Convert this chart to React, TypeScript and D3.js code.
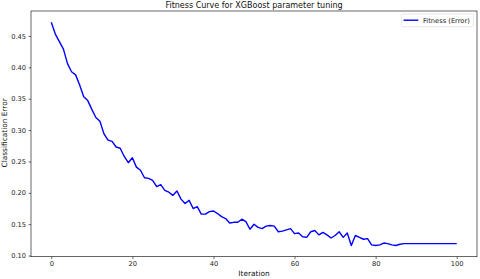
import React, {useEffect, useRef} from 'react'
import * as d3 from 'd3'

// fitness (classification error) per iteration
const fitness = [
	0.472, 0.453, 0.441, 0.429, 0.406, 0.393, 0.388, 0.372, 0.353, 0.347,
	0.333, 0.320, 0.314, 0.294, 0.284, 0.282, 0.273, 0.271, 0.258, 0.248,
	0.256, 0.241, 0.236, 0.224, 0.223, 0.220, 0.210, 0.213, 0.204, 0.201,
	0.196, 0.203, 0.190, 0.183, 0.188, 0.175, 0.178, 0.166, 0.166, 0.170,
	0.171, 0.167, 0.162, 0.159, 0.152, 0.153, 0.153, 0.158, 0.154, 0.142,
	0.150, 0.145, 0.143, 0.147, 0.148, 0.147, 0.138, 0.139, 0.141, 0.143,
	0.135, 0.136, 0.130, 0.129, 0.138, 0.140, 0.133, 0.137, 0.133, 0.128,
	0.132, 0.138, 0.129, 0.136, 0.116, 0.132, 0.129, 0.126, 0.127, 0.117,
	0.116, 0.117, 0.120, 0.119, 0.117, 0.116, 0.118, 0.119, 0.119, 0.119,
	0.119, 0.119, 0.119, 0.119, 0.119, 0.119, 0.119, 0.119, 0.119, 0.119,
	0.119,
]
const iterations = fitness.map((d, i) => i)
const xTicks = [0, 20, 40, 60, 80, 100]
const yTicks = [0.10, 0.15, 0.20, 0.25, 0.30, 0.35, 0.40, 0.45]

const title = 'Fitness Curve for XGBoost parameter tuning'
const xLabel = 'Iteration'
const yLabel = 'Classification Error'
const seriesName = 'Fitness (Error)'

const width = 480
const height = 279
const font = 'DejaVu Sans, sans-serif'

export default function App() {
	const svgRef = useRef<SVGSVGElement>(null)

	useEffect(() => {
		const svg = d3.select(svgRef.current)
		svg.selectAll('*').remove()

		const left = 31, right = 477, top = 11, bottom = 256.7

		const xMin = d3.min(iterations)!, xMax = d3.max(iterations)!
		const xPad = (xMax - xMin) * 0.05
		const xScale = d3.scaleLinear()
			.domain([xMin - xPad, xMax + xPad])
			.range([left, right])

		const yMin = d3.min(fitness)!, yMax = d3.max(fitness)!
		const yPad = (yMax - yMin) * 0.05
		const yScale = d3.scaleLinear()
			.domain([yMin - yPad, yMax + yPad])
			.range([bottom, top])

		svg.append('rect')
			.attr('width', width)
			.attr('height', height)
			.attr('fill', '#fff')

		// line
		const line = d3.line<number>()
			.x((d, i) => xScale(iterations[i]))
			.y(d => yScale(d))
		svg.append('path')
			.datum(fitness)
			.attr('fill', 'none')
			.attr('stroke', '#0000ff')
			.attr('stroke-width', 1.4)
			.attr('stroke-linejoin', 'round')
			.attr('d', line)

		// axes
		const xAxis = d3.axisBottom(xScale)
			.tickValues(xTicks)
			.tickSize(2.4)
			.tickPadding(2.5)
			.tickFormat(d3.format('d'))
		const yAxis = d3.axisLeft(yScale)
			.tickValues(yTicks)
			.tickSize(2.4)
			.tickPadding(2.5)
			.tickFormat(d3.format('.2f'))

		const gx = svg.append('g')
			.attr('transform', 'translate(0,' + bottom + ')')
			.call(xAxis)
		const gy = svg.append('g')
			.attr('transform', 'translate(' + left + ',0)')
			.call(yAxis)
		for (const g of [gx, gy]) {
			g.select('.domain').remove()
			g.selectAll('line').attr('stroke', '#000').attr('stroke-width', 0.6)
			g.selectAll('text')
				.attr('fill', '#222')
				.style('font-family', font)
				.style('font-size', '6.7px')
		}

		// frame
		svg.append('rect')
			.attr('x', left)
			.attr('y', top)
			.attr('width', right - left)
			.attr('height', bottom - top)
			.attr('fill', 'none')
			.attr('stroke', '#000')
			.attr('stroke-width', 0.6)

		svg.append('text')
			.attr('x', (left + right) / 2)
			.attr('y', 7.6)
			.attr('text-anchor', 'middle')
			.style('font-family', font)
			.style('font-size', '8px')
			.attr('fill', '#111')
			.text(title)

		svg.append('text')
			.attr('x', (left + right) / 2)
			.attr('y', 276.3)
			.attr('text-anchor', 'middle')
			.style('font-family', font)
			.style('font-size', '7.4px')
			.attr('fill', '#111')
			.text(xLabel)

		svg.append('text')
			.attr('transform', 'translate(7.3,' + ((top + bottom) / 2 - 1) + ') rotate(-90)')
			.attr('text-anchor', 'middle')
			.style('font-family', font)
			.style('font-size', '7.4px')
			.attr('fill', '#111')
			.text(yLabel)

		// legend
		const legend = svg.append('g')
		legend.append('rect')
			.attr('x', 401.3)
			.attr('y', 14)
			.attr('width', 72)
			.attr('height', 12.7)
			.attr('rx', 1.5)
			.attr('fill', '#fff')
			.attr('fill-opacity', 0.8)
			.attr('stroke', '#d6d6d6')
			.attr('stroke-width', 0.6)
		legend.append('line')
			.attr('x1', 403.5)
			.attr('x2', 418.3)
			.attr('y1', 20.2)
			.attr('y2', 20.2)
			.attr('stroke', '#0000ff')
			.attr('stroke-width', 1.4)
		legend.append('text')
			.attr('x', 423)
			.attr('y', 22.6)
			.style('font-family', font)
			.style('font-size', '6.7px')
			.attr('fill', '#222')
			.text(seriesName)
	}, [])

	return (
		<svg ref={svgRef} width={width} height={height}
			style={{position: 'absolute', left: 0, top: 0}} />
	)
}
